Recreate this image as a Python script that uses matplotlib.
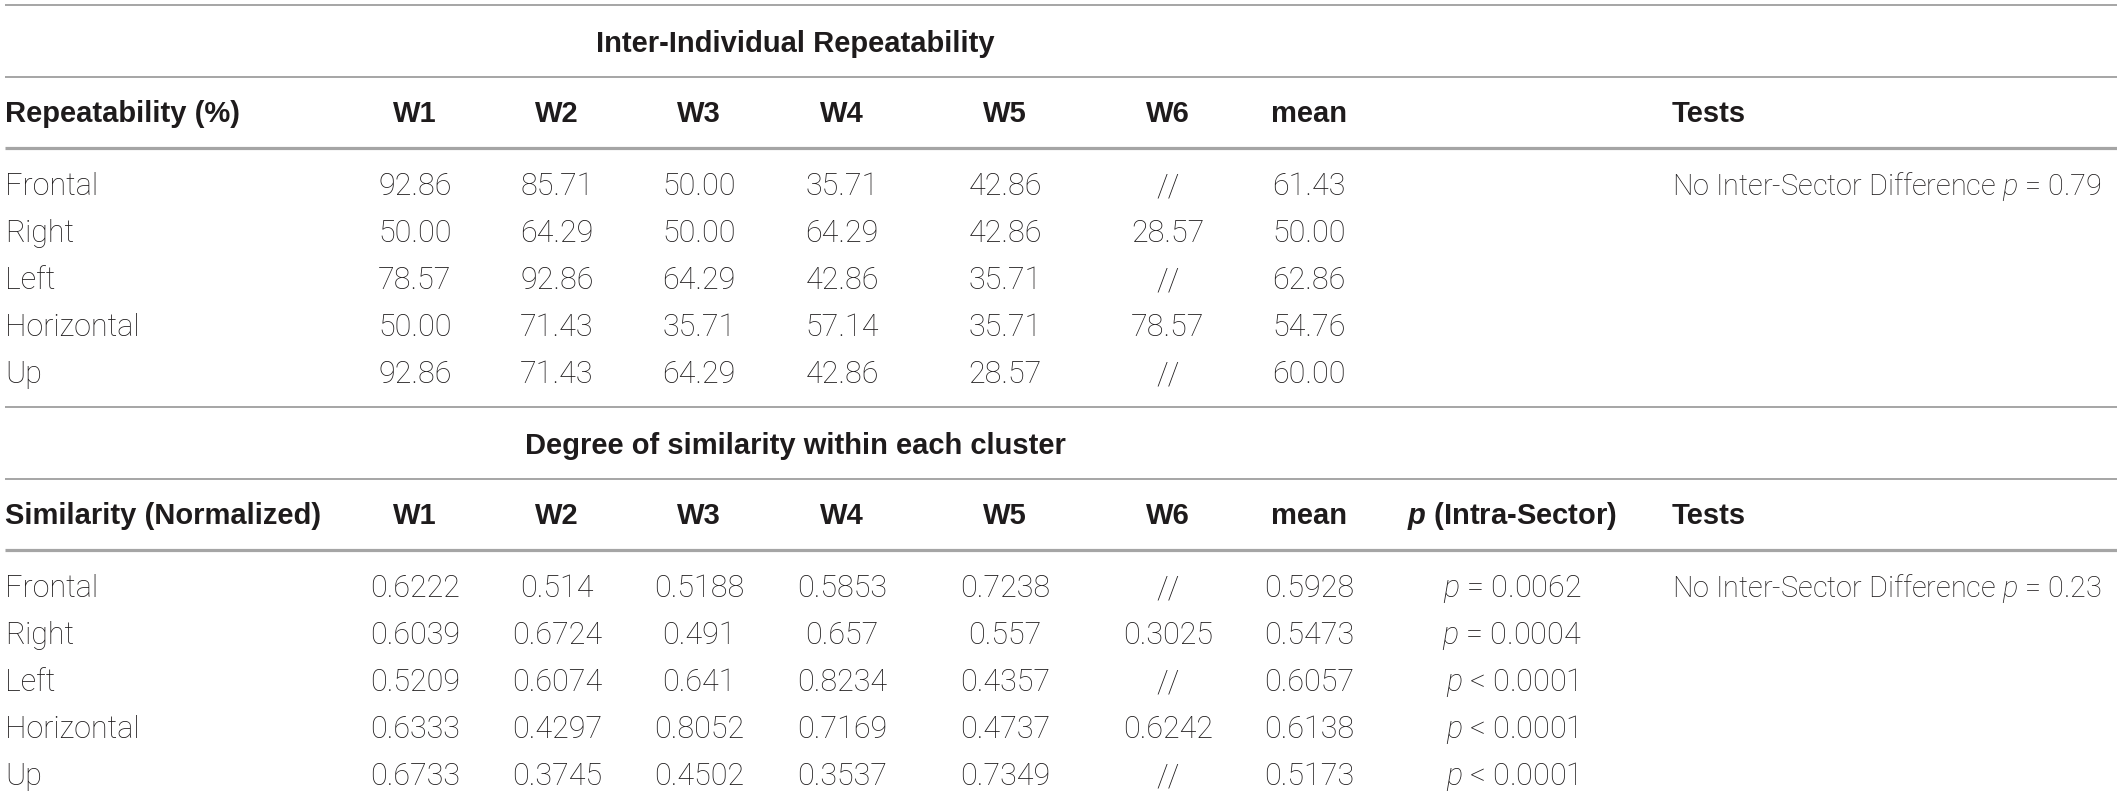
import matplotlib
matplotlib.use("Agg")
import matplotlib.pyplot as plt

# fonts: light sans for the body, bold sans for the headers
plt.rcParams['mathtext.fontset'] = 'custom'
plt.rcParams['mathtext.it'] = 'Roboto:italic:light'
plt.rcParams['mathtext.rm'] = 'Roboto:light'
plt.rcParams['mathtext.bfit'] = 'Liberation Sans:italic:bold'

# --- data ---
sectors = ["Frontal", "Right", "Left", "Horizontal", "Up"]
col_labels = ["W1", "W2", "W3", "W4", "W5", "W6", "mean"]

repeat_W1 = ["92.86", "50.00", "78.57", "50.00", "92.86"]
repeat_W2 = ["85.71", "64.29", "92.86", "71.43", "71.43"]
repeat_W3 = ["50.00", "50.00", "64.29", "35.71", "64.29"]
repeat_W4 = ["35.71", "64.29", "42.86", "57.14", "42.86"]
repeat_W5 = ["42.86", "42.86", "35.71", "35.71", "28.57"]
repeat_W6 = ["//", "28.57", "//", "78.57", "//"]
repeat_mean = ["61.43", "50.00", "62.86", "54.76", "60.00"]

sim_W1 = ["0.6222", "0.6039", "0.5209", "0.6333", "0.6733"]
sim_W2 = ["0.514", "0.6724", "0.6074", "0.4297", "0.3745"]
sim_W3 = ["0.5188", "0.491", "0.641", "0.8052", "0.4502"]
sim_W4 = ["0.5853", "0.657", "0.8234", "0.7169", "0.3537"]
sim_W5 = ["0.7238", "0.557", "0.4357", "0.4737", "0.7349"]
sim_W6 = ["//", "0.3025", "//", "0.6242", "//"]
sim_mean = ["0.5928", "0.5473", "0.6057", "0.6138", "0.5173"]
sim_p = ["= 0.0062", "= 0.0004", "< 0.0001", "< 0.0001", "< 0.0001"]

test_repeat = "0.79"
test_sim = "0.23"

repeat_cols = [repeat_W1, repeat_W2, repeat_W3, repeat_W4, repeat_W5, repeat_W6, repeat_mean]
sim_cols = [sim_W1, sim_W2, sim_W3, sim_W4, sim_W5, sim_W6, sim_mean]

# --- layout (pixels) ---
W, H = 2117, 797
col_x = [415, 557, 699, 842, 1005, 1168, 1309]
p_x = 1512
tests_x = 1672
label_x = 5
title_x = 795
row_step = 47
txt = '#1e1b1c'
line_c = '#a5a5a5'
fs = 22

body = dict(family='Roboto', weight='light', fontsize=fs, color=txt)
bold = dict(family='Liberation Sans', weight='bold', fontsize=21, color=txt)

fig = plt.figure(figsize=(W / 100, H / 100), dpi=100)
ax = fig.add_axes([0, 0, 1, 1])
ax.set_xlim(0, W)
ax.set_ylim(H, 0)
ax.axis('off')


def hline(y, lw):
    ax.plot([label_x, W], [y, y], color=line_c, lw=lw, solid_capstyle='butt')


def block(y0, title, head_label, cols, p_vals, test_p):
    hline(y0 + 5, 1.4)
    ax.text(title_x, y0 + 52, title, ha='center', va='baseline', **bold)
    hline(y0 + 77, 1.4)
    ax.text(label_x, y0 + 122, head_label, ha='left', va='baseline', **bold)
    for x, lab in zip(col_x, col_labels):
        ax.text(x, y0 + 122, lab, ha='center', va='baseline', **bold)
    if p_vals is not None:
        ax.text(p_x, y0 + 122, r"$\mathbfit{p}$ (Intra-Sector)", ha='center',
                va='baseline', **bold)
    ax.text(tests_x, y0 + 122, "Tests", ha='left', va='baseline', **bold)
    hline(y0 + 148, 2.3)
    for i, name in enumerate(sectors):
        yb = y0 + 195 + i * row_step
        ax.text(label_x, yb, name, ha='left', va='baseline', **body)
        for x, col in zip(col_x, cols):
            ax.text(x, yb, col[i], ha='center', va='baseline', **body)
        if p_vals is not None:
            ax.text(p_x, yb, "$p$ " + p_vals[i], ha='center', va='baseline', **body)
    test_style = dict(body, fontsize=20.8)
    ax.text(tests_x, y0 + 195, "No Inter-Sector Difference $p$ = " + test_p,
            ha='left', va='baseline', **test_style)


block(0, "Inter-Individual Repeatability", "Repeatability (%)", repeat_cols, None, test_repeat)
block(402, "Degree of similarity within each cluster", "Similarity (Normalized)", sim_cols, sim_p, test_sim)

fig.savefig("out.png", dpi=100, facecolor='white')
